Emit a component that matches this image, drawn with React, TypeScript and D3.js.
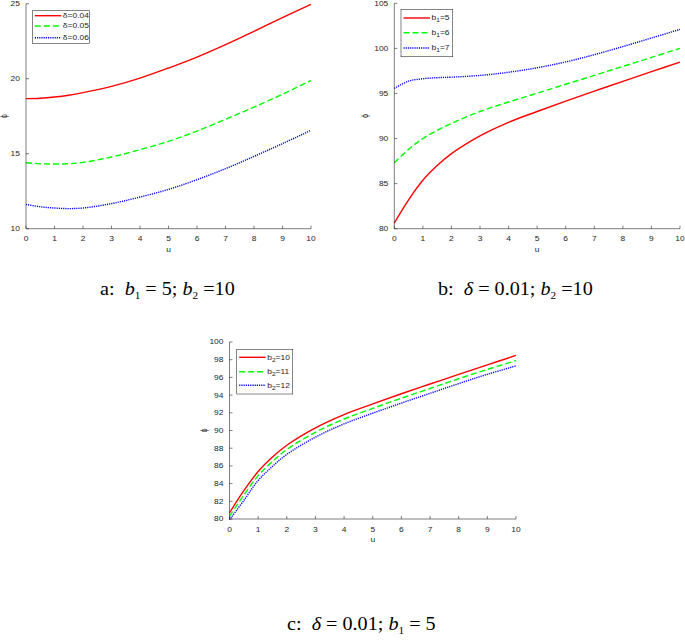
import React from 'react'
import * as d3 from 'd3'

// sample points along u
const uValues = [0, 0.5, 1, 1.5, 2, 3, 4, 5, 6, 7, 8, 9, 10]

// panel a: b1 = 5, b2 = 10
const aDelta004 = [18.67, 18.7, 18.78, 18.9, 19.07, 19.49, 20.04, 20.71, 21.44, 22.27, 23.16, 24.07, 24.96]
const aDelta005 = [14.4, 14.33, 14.31, 14.33, 14.42, 14.78, 15.27, 15.82, 16.51, 17.29, 18.11, 18.96, 19.89]
const aDelta006 = [11.62, 11.46, 11.38, 11.34, 11.38, 11.67, 12.11, 12.62, 13.27, 14.0, 14.82, 15.67, 16.56]
const aLabels = ['δ=0.04', 'δ=0.05', 'δ=0.06']
const aTicks = [10, 15, 20, 25]

// panel b: delta = 0.01, b2 = 10
const bB1Five = [80.63, 83.2, 85.37, 87.0, 88.33, 90.3, 91.8, 93.0, 94.15, 95.25, 96.35, 97.42, 98.48]
const bB1Six = [87.3, 88.8, 90.0, 90.9, 91.67, 93.0, 94.05, 95.03, 96.02, 97.0, 98.0, 99.0, 100.0]
const bB1Seven = [95.56, 96.37, 96.63, 96.75, 96.81, 97.0, 97.35, 97.85, 98.5, 99.3, 100.2, 101.15, 102.11]
const bLabels = [['b', '1', '=5'], ['b', '1', '=6'], ['b', '1', '=7']]
const bTicks = [80, 85, 90, 95, 100, 105]

// panel c: delta = 0.01, b1 = 5
const cB2Ten = [80.7, 83.2, 85.37, 87.0, 88.33, 90.3, 91.8, 93.0, 94.15, 95.25, 96.35, 97.42, 98.48]
const cB2Eleven = [80.3, 82.7, 84.9, 86.5, 87.85, 89.8, 91.3, 92.5, 93.65, 94.75, 95.85, 96.9, 97.9]
const cB2Twelve = [79.9, 82.1, 84.35, 85.95, 87.3, 89.25, 90.75, 91.95, 93.1, 94.2, 95.3, 96.35, 97.3]
const cLabels = [['b', '2', '=10'], ['b', '2', '=11'], ['b', '2', '=12']]
const cTicks = [80, 82, 84, 86, 88, 90, 92, 94, 96, 98, 100]

const xTicks = [0, 1, 2, 3, 4, 5, 6, 7, 8, 9, 10]

const styles = [
  {color: '#ff0000', dash: null},
  {color: '#00ff00', dash: '6,3'},
  {color: '#0000ff', dash: '1.2,1'},
]

const AX = '#262626'
const SANS = 'Liberation Sans, Arial, sans-serif'
const SERIF = 'Liberation Serif, Times New Roman, serif'
// the original figure is stretched horizontally
const SX = 1.28

// small axis text, widened like the source image
function T({x, y, anchor = 'start', children, rotate = false}) {
  const tr = rotate
    ? `translate(${x},${y}) rotate(-90) scale(1,${SX})`
    : `translate(${x},${y}) scale(${SX},1)`
  return (
    <text transform={tr} textAnchor={anchor} fontSize={6.6} fill={AX} fontFamily={SANS}>
      {children}
    </text>
  )
}

function Panel({x0, x1, yTop, yBot, domain, yTicks, series, labels, legend, yLabelGap}) {
  const x = d3.scaleLinear().domain([0, 10]).range([x0, x1])
  const y = d3.scaleLinear().domain(domain).range([yBot, yTop])
  const line = d3
    .line()
    .x(d => x(d[0]))
    .y(d => y(d[1]))
    .curve(d3.curveCatmullRom.alpha(0.5))

  return (
    <g>
      {series.map((s, i) => (
        <path
          key={i}
          d={line(uValues.map((u, k) => [u, s[k]]))}
          fill="none"
          stroke={styles[i].color}
          strokeWidth={1.4}
          strokeDasharray={styles[i].dash || undefined}
        />
      ))}
      {/* axes */}
      <line x1={x0} x2={x0} y1={yTop} y2={yBot} stroke={AX} strokeWidth={0.6} />
      <line x1={x0} x2={x1} y1={yBot} y2={yBot} stroke={AX} strokeWidth={0.6} />
      {xTicks.map(t => (
        <g key={t}>
          <line x1={x(t)} x2={x(t)} y1={yBot} y2={yBot - 3} stroke={AX} strokeWidth={0.6} />
          <T x={x(t)} y={yBot + 12.5} anchor="middle">
            {t}
          </T>
        </g>
      ))}
      {yTicks.map(t => (
        <g key={t}>
          <line x1={x0} x2={x0 + 3} y1={y(t)} y2={y(t)} stroke={AX} strokeWidth={0.6} />
          <T x={x0 - 6} y={y(t) + 2.4} anchor="end">
            {t}
          </T>
        </g>
      ))}
      <T x={(x0 + x1) / 2} y={yBot + 23} anchor="middle">
        u
      </T>
      <T x={x0 - yLabelGap} y={(yTop + yBot) / 2} anchor="middle" rotate>
        ϕ
      </T>
      {/* legend */}
      <rect
        x={legend.x}
        y={legend.y}
        width={legend.w}
        height={legend.h}
        fill="#fff"
        stroke="#333"
        strokeWidth={0.6}
      />
      {labels.map((lab, i) => {
        const ly = legend.rows[i]
        return (
          <g key={i}>
            <line
              x1={legend.x + 2.5}
              x2={legend.x + 29}
              y1={ly}
              y2={ly}
              stroke={styles[i].color}
              strokeWidth={1.4}
              strokeDasharray={styles[i].dash || undefined}
            />
            <T x={legend.x + 30.5} y={ly + 2.4}>
              {typeof lab === 'string' ? (
                lab
              ) : (
                <>
                  {lab[0]}
                  <tspan fontSize={5.2} dy={2}>
                    {lab[1]}
                  </tspan>
                  <tspan dy={-2}>{lab[2]}</tspan>
                </>
              )}
            </T>
          </g>
        )
      })}
    </g>
  )
}

function Caption({x, y, prefix, parts}) {
  return (
    <text
      transform={`translate(${x},${y}) scale(1.12,1)`}
      fontSize={18}
      fontFamily={SERIF}
      fill="#000"
      style={{whiteSpace: 'pre'}}
    >
      {prefix}
      {parts.map((p, i) =>
        p.sub ? (
          <React.Fragment key={i}>
            <tspan fontStyle="italic">{p.t}</tspan>
            <tspan fontSize={10} dy={4}>
              {p.sub}
            </tspan>
            <tspan dy={-4}>{p.after}</tspan>
          </React.Fragment>
        ) : (
          <React.Fragment key={i}>
            <tspan fontStyle="italic">{p.t}</tspan>
            <tspan>{p.after}</tspan>
          </React.Fragment>
        )
      )}
    </text>
  )
}

export default function App() {
  return (
    <svg
      width={685}
      height={642}
      style={{position: 'absolute', left: 0, top: 0, background: '#fff'}}
    >
      <Panel
        x0={26}
        x1={311}
        yTop={3.7}
        yBot={228.7}
        domain={[10, 25]}
        yTicks={aTicks}
        series={[aDelta004, aDelta005, aDelta006]}
        labels={aLabels}
        legend={{x: 32.3, y: 10.7, w: 57, h: 32.6, rows: [15.7, 26, 37.7]}}
        yLabelGap={19}
      />
      <Panel
        x0={394.3}
        x1={680}
        yTop={3.3}
        yBot={228.7}
        domain={[80, 105]}
        yTicks={bTicks}
        series={[bB1Five, bB1Six, bB1Seven]}
        labels={bLabels}
        legend={{x: 401, y: 9.3, w: 51.7, h: 47.4, rows: [18, 32.7, 48]}}
        yLabelGap={26}
      />
      <Panel
        x0={229.5}
        x1={516}
        yTop={342}
        yBot={519}
        domain={[80, 100]}
        yTicks={cTicks}
        series={[cB2Ten, cB2Eleven, cB2Twelve]}
        labels={cLabels}
        legend={{x: 236.7, y: 349.3, w: 56, h: 44.7, rows: [357.3, 371.7, 385.3]}}
        yLabelGap={23}
      />
      <Caption
        x={100}
        y={295}
        prefix="a:  "
        parts={[
          {t: 'b', sub: '1', after: ' = 5; '},
          {t: 'b', sub: '2', after: ' =10'},
        ]}
      />
      <Caption
        x={438}
        y={295}
        prefix="b:  "
        parts={[
          {t: 'δ', after: ' = 0.01; '},
          {t: 'b', sub: '2', after: ' =10'},
        ]}
      />
      <Caption
        x={287}
        y={630}
        prefix="c:  "
        parts={[
          {t: 'δ', after: ' = 0.01; '},
          {t: 'b', sub: '1', after: ' = 5'},
        ]}
      />
    </svg>
  )
}
